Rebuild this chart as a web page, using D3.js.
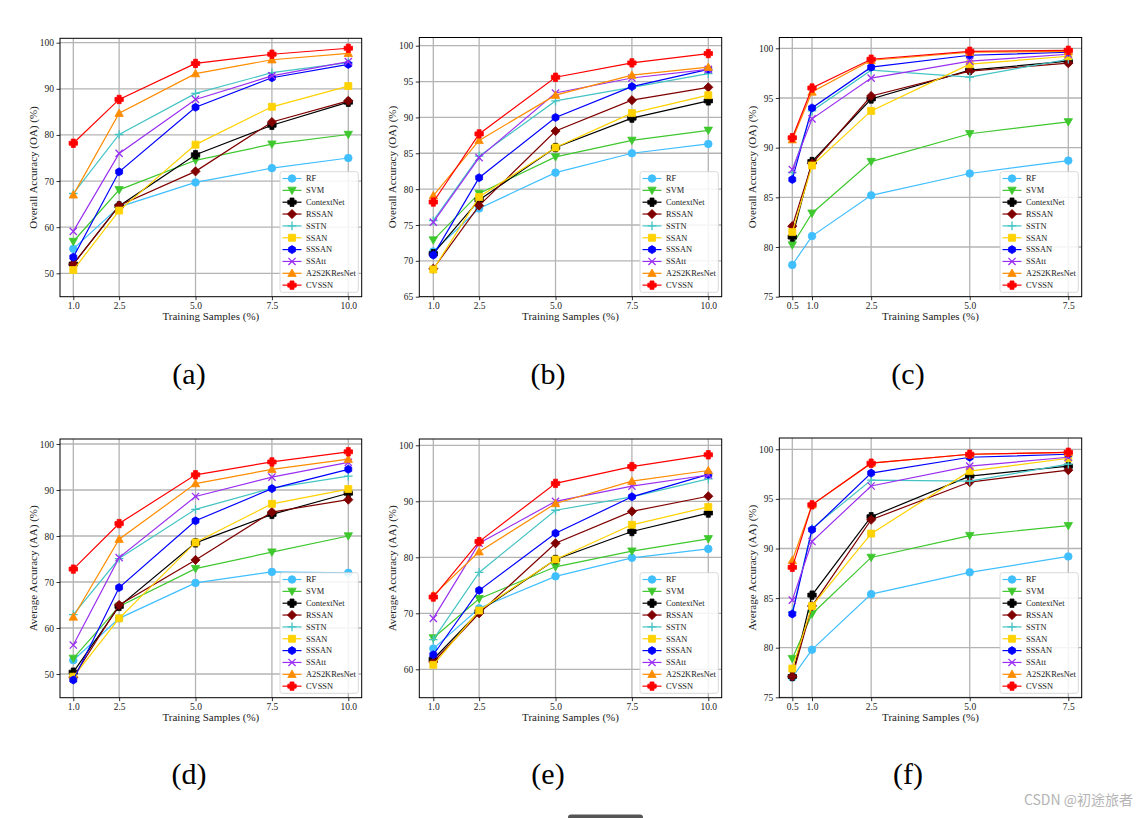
<!DOCTYPE html>
<html>
<head>
<meta charset="utf-8">
<script src="https://cdn.jsdelivr.net/npm/d3@7"></script>
<style>
  html, body { margin: 0; padding: 0; background: #ffffff; }
  svg { display: block; }
</style>
</head>
<body>
<svg id="chart" width="1147" height="818"></svg>
<script>
// ---------------- DATA ----------------
const methods = ["RF", "SVM", "ContextNet", "RSSAN", "SSTN", "SSAN", "SSSAN", "SSAtt", "A2S2KResNet", "CVSSN"];
const samplesAB = [1.0, 2.5, 5.0, 7.5, 10.0];
const samplesC = [0.5, 1.0, 2.5, 5.0, 7.5];
const xTickLabelsAB = ["1.0", "2.5", "5.0", "7.5", "10.0"];
const xTickLabelsC = ["0.5", "1.0", "2.5", "5.0", "7.5"];
const yTicksA = [50, 60, 70, 80, 90, 100];
const yTicksB = [65, 70, 75, 80, 85, 90, 95, 100];
const yTicksC = [75, 80, 85, 90, 95, 100];
const yTicksD = [50, 60, 70, 80, 90, 100];
const yTicksE = [60, 70, 80, 90, 100];
const yTicksF = [75, 80, 85, 90, 95, 100];

// (a) Overall Accuracy, rows follow `methods`
const oaA = [
  [55.3, 64.4, 69.7, 72.8, 75.0],
  [56.9, 68.1, 74.5, 78.0, 80.1],
  [52.0, 64.6, 75.7, 82.1, 87.1],
  [52.0, 64.7, 72.1, 82.8, 87.4],
  [67.3, 80.1, 89.0, 93.5, 95.7],
  [50.7, 63.6, 77.9, 86.1, 90.6],
  [53.5, 72.0, 86.0, 92.4, 95.3],
  [59.1, 76.0, 87.7, 92.8, 95.9],
  [67.0, 84.7, 93.3, 96.3, 97.7],
  [78.2, 87.7, 95.5, 97.5, 98.8]
];
// (b) Overall Accuracy
const oaB = [
  [71.3, 77.3, 82.3, 85.0, 86.3],
  [72.9, 79.4, 84.5, 86.8, 88.2],
  [71.0, 78.5, 85.8, 89.9, 92.3],
  [68.9, 77.7, 88.1, 92.4, 94.2],
  [75.6, 84.6, 92.3, 94.2, 96.1],
  [68.8, 78.9, 85.8, 90.6, 93.1],
  [70.8, 81.6, 90.0, 94.3, 96.7],
  [75.4, 84.4, 93.4, 95.5, 96.7],
  [79.1, 86.8, 93.1, 95.9, 97.0],
  [78.2, 87.7, 95.6, 97.6, 98.9]
];
// (c) Overall Accuracy
const oaC = [
  [78.2, 81.1, 85.2, 87.4, 88.7],
  [80.2, 83.4, 88.6, 91.4, 92.6],
  [81.0, 88.6, 94.9, 97.8, 98.7],
  [82.1, 88.4, 95.2, 97.7, 98.5],
  [87.5, 93.7, 97.8, 97.1, 98.9],
  [81.5, 88.2, 93.7, 98.4, 99.2],
  [86.8, 94.0, 98.1, 99.3, 99.6],
  [87.8, 92.9, 97.0, 98.7, 99.4],
  [90.8, 95.6, 98.8, 99.6, 99.7],
  [91.0, 96.0, 98.9, 99.7, 99.8]
];
// (d) Average Accuracy
const aaD = [
  [53.0, 62.1, 69.8, 72.2, 72.0],
  [53.4, 64.7, 72.9, 76.5, 80.0],
  [50.4, 64.7, 78.5, 84.7, 89.3],
  [49.3, 65.0, 74.8, 85.2, 87.9],
  [62.9, 75.1, 85.8, 90.4, 93.0],
  [49.4, 62.1, 78.6, 87.0, 90.2],
  [48.7, 68.8, 83.3, 90.3, 94.5],
  [56.3, 75.3, 88.6, 92.8, 96.0],
  [62.4, 79.3, 91.4, 94.5, 96.7],
  [72.8, 82.7, 93.3, 96.1, 98.3]
];
// (e) Average Accuracy
const aaE = [
  [63.7, 70.9, 76.6, 79.9, 81.5],
  [65.6, 72.6, 78.3, 81.1, 83.3],
  [61.8, 70.3, 79.6, 84.6, 87.9],
  [61.3, 70.0, 82.5, 88.2, 90.9],
  [65.3, 77.3, 88.4, 90.8, 94.0],
  [60.8, 70.5, 79.6, 85.8, 89.0],
  [62.6, 74.1, 84.3, 90.8, 94.8],
  [69.1, 82.5, 90.0, 92.7, 94.7],
  [73.2, 81.0, 89.6, 93.6, 95.5],
  [72.9, 82.8, 93.2, 96.2, 98.3]
];
// (f) Average Accuracy
const aaF = [
  [77.0, 79.8, 85.4, 87.6, 89.2],
  [78.9, 83.4, 89.1, 91.3, 92.3],
  [77.1, 85.3, 93.2, 97.3, 98.3],
  [77.1, 84.2, 92.9, 96.7, 97.9],
  [83.6, 92.0, 96.9, 96.8, 98.5],
  [77.9, 84.2, 91.5, 97.8, 99.1],
  [83.4, 91.9, 97.6, 99.2, 99.5],
  [84.8, 90.7, 96.3, 98.3, 99.2],
  [88.8, 94.4, 98.6, 99.5, 99.7],
  [88.1, 94.4, 98.6, 99.5, 99.7]
];

// ---------------- STYLE ----------------
const colors = ["#40bfff", "#3ec82e", "#000000", "#800000", "#45c4c4", "#ffd200", "#0000ff", "#9a30f0", "#ff8c00", "#ff0000"];
const markers = ["circle", "tridown", "plusfill", "diamond", "plus", "square", "hexagon", "cross", "triup", "plusfill"];
const FONT = "'Liberation Serif', 'Times New Roman', serif";

function markerPath(type) {
  switch (type) {
    case "circle": { const r = 3.8; return `M${-r},0A${r},${r} 0 1,0 ${r},0A${r},${r} 0 1,0 ${-r},0Z`; }
    case "tridown": return "M-4.2,-3.2L4.2,-3.2L0,4.2Z";
    case "triup": return "M0,-4.2L4.2,3.2L-4.2,3.2Z";
    case "square": return "M-3.5,-3.5L3.5,-3.5L3.5,3.5L-3.5,3.5Z";
    case "diamond": return "M0,-4.6L4.6,0L0,4.6L-4.6,0Z";
    case "hexagon": {
      const r = 4.0; const p = d3.range(6).map(k => { const a = -Math.PI / 2 + k * Math.PI / 3; return [r * Math.cos(a), r * Math.sin(a)]; });
      return "M" + p.map(q => q.join(",")).join("L") + "Z";
    }
    case "plusfill": {
      const s = 4.2, t = 2.0;
      return `M${-t},${-s}L${t},${-s}L${t},${-t}L${s},${-t}L${s},${t}L${t},${t}L${t},${s}L${-t},${s}L${-t},${t}L${-s},${t}L${-s},${-t}L${-t},${-t}Z`;
    }
    case "plus": return "M-4.3,0L4.3,0M0,-4.3L0,4.3";
    case "cross": return "M-3.6,-3.6L3.6,3.6M-3.6,3.6L3.6,-3.6";
  }
}
const strokeOnly = t => t === "plus" || t === "cross";

function drawMarker(g, type, color, x, y) {
  const p = g.append("path")
    .attr("d", markerPath(type))
    .attr("transform", `translate(${x},${y})`);
  if (strokeOnly(type)) {
    p.attr("fill", "none").attr("stroke", color).attr("stroke-width", 1.3);
  } else {
    p.attr("fill", color).attr("stroke", color).attr("stroke-width", 0.8).attr("stroke-linejoin", "round");
  }
}

// ---------------- PANELS (layout) ----------------
const panels = [
  { id: "(a)", data: oaA, xs: samplesAB, xl: xTickLabelsAB, yt: yTicksA, ylab: "Overall Accuracy (OA) (%)",
    L: 60, R: 361.7, T: 38.3, B: 296.7, yr: [[50, 273.3], [100, 42.7]], xr: [[1, 73.3], [10, 348.3]], lx: 189, ly: 384 },
  { id: "(b)", data: oaB, xs: samplesAB, xl: xTickLabelsAB, yt: yTicksB, ylab: "Overall Accuracy (OA) (%)",
    L: 419.3, R: 721.7, T: 37.5, B: 296.7, yr: [[65, 296.7], [100, 45.7]], xr: [[1, 433.3], [10, 708.3]], lx: 548, ly: 384 },
  { id: "(c)", data: oaC, xs: samplesC, xl: xTickLabelsC, yt: yTicksC, ylab: "Overall Accuracy (OA) (%)",
    L: 779.3, R: 1081.7, T: 37.5, B: 296.7, yr: [[75, 296.7], [100, 48.3]], xr: [[0.5, 792.3], [7.5, 1068.3]], lx: 908, ly: 384 },
  { id: "(d)", data: aaD, xs: samplesAB, xl: xTickLabelsAB, yt: yTicksD, ylab: "Average Accuracy (AA) (%)",
    L: 60, R: 361.7, T: 439.0, B: 697.7, yr: [[50, 674], [100, 444]], xr: [[1, 73.3], [10, 348.3]], lx: 189, ly: 784 },
  { id: "(e)", data: aaE, xs: samplesAB, xl: xTickLabelsAB, yt: yTicksE, ylab: "Average Accuracy (AA) (%)",
    L: 419.3, R: 721.7, T: 439.0, B: 697.7, yr: [[60, 669.3], [100, 445.3]], xr: [[1, 433.3], [10, 708.3]], lx: 548, ly: 784 },
  { id: "(f)", data: aaF, xs: samplesC, xl: xTickLabelsC, yt: yTicksF, ylab: "Average Accuracy (AA) (%)",
    L: 779.3, R: 1081.7, T: 438.0, B: 697.7, yr: [[75, 697.3], [100, 449.3]], xr: [[0.5, 792.3], [7.5, 1068.3]], lx: 908, ly: 784 }
];

const svg = d3.select("#chart");
svg.append("rect").attr("width", 1147).attr("height", 818).attr("fill", "#ffffff");

panels.forEach((P, pi) => {
  const x = d3.scaleLinear().domain([P.xr[0][0], P.xr[1][0]]).range([P.xr[0][1], P.xr[1][1]]);
  const y = d3.scaleLinear().domain([P.yr[0][0], P.yr[1][0]]).range([P.yr[0][1], P.yr[1][1]]);
  const g = svg.append("g");
  const clipId = "clip" + pi;
  svg.append("clipPath").attr("id", clipId).append("rect")
    .attr("x", P.L).attr("y", P.T).attr("width", P.R - P.L).attr("height", P.B - P.T);

  // grid
  const grid = g.append("g").attr("clip-path", `url(#${clipId})`);
  P.xs.forEach(v => grid.append("line").attr("x1", x(v)).attr("x2", x(v)).attr("y1", P.T).attr("y2", P.B)
    .attr("stroke", "#b4b4b4").attr("stroke-width", 1.3));
  P.yt.forEach(v => grid.append("line").attr("x1", P.L).attr("x2", P.R).attr("y1", y(v)).attr("y2", y(v))
    .attr("stroke", "#b4b4b4").attr("stroke-width", 1.3));

  // axes via d3
  const xAxis = d3.axisBottom(x).tickValues(P.xs).tickFormat((d, i) => P.xl[i]).tickSizeOuter(0).tickSize(3.5).tickPadding(2.5);
  const yAxis = d3.axisLeft(y).tickValues(P.yt).tickFormat(d3.format("d")).tickSizeOuter(0).tickSize(3.5).tickPadding(2.5);
  const gx = g.append("g").attr("transform", `translate(0,${P.B})`).call(xAxis);
  const gy = g.append("g").attr("transform", `translate(${P.L},0)`).call(yAxis);
  [gx, gy].forEach(a => {
    a.select(".domain").remove();
    a.selectAll(".tick line").attr("stroke", "#000").attr("stroke-width", 0.8);
    a.selectAll(".tick text").attr("font-family", FONT).attr("font-size", 9.5).attr("fill", "#222");
  });

  // series
  const lines = g.append("g").attr("clip-path", `url(#${clipId})`);
  const lineGen = d3.line().x(d => x(d[0])).y(d => y(d[1]));
  P.data.forEach((vals, si) => {
    const pts = P.xs.map((xv, k) => [xv, vals[k]]);
    lines.append("path").attr("d", lineGen(pts)).attr("fill", "none")
      .attr("stroke", colors[si]).attr("stroke-width", 1.2);
    pts.forEach(p => drawMarker(lines, markers[si], colors[si], x(p[0]), y(p[1])));
  });

  // frame
  g.append("rect").attr("x", P.L).attr("y", P.T).attr("width", P.R - P.L).attr("height", P.B - P.T)
    .attr("fill", "none").attr("stroke", "#000").attr("stroke-width", 1);

  // axis titles
  g.append("text").attr("x", (P.L + P.R) / 2).attr("y", P.B + 23.5).attr("text-anchor", "middle")
    .attr("font-family", FONT).attr("font-size", 11).attr("fill", "#222").text("Training Samples (%)");
  g.append("text").attr("transform", `translate(${P.L - 23.5},${(P.T + P.B) / 2}) rotate(-90)`)
    .attr("text-anchor", "middle").attr("font-family", FONT).attr("font-size", 11).attr("fill", "#222").text(P.ylab);

  // legend
  const bw = 78.3, bh = 120.6;
  const bx = P.R - 3.4 - bw, by = P.B - 4.4 - bh;
  const lg = g.append("g");
  lg.append("rect").attr("x", bx).attr("y", by).attr("width", bw).attr("height", bh).attr("rx", 2.5)
    .attr("fill", "#ffffff").attr("fill-opacity", 0.85).attr("stroke", "#d0d0d0").attr("stroke-width", 0.8);
  methods.forEach((m, si) => {
    const cy = by + 6.8 + si * 11.85;
    lg.append("line").attr("x1", bx + 2.5).attr("x2", bx + 21.5).attr("y1", cy).attr("y2", cy)
      .attr("stroke", colors[si]).attr("stroke-width", 1.2);
    drawMarker(lg, markers[si], colors[si], bx + 12, cy);
    lg.append("text").attr("x", bx + 26).attr("y", cy).attr("dy", "0.34em")
      .attr("font-family", FONT).attr("font-size", 8.4).attr("fill", "#222").text(m);
  });

  // panel label
  svg.append("text").attr("x", P.lx).attr("y", P.ly).attr("text-anchor", "middle")
    .attr("font-family", FONT).attr("font-size", 30).attr("fill", "#000").text(P.id);
});

// watermark & bottom bar
svg.append("text").attr("x", 1133).attr("y", 805).attr("text-anchor", "end")
  .attr("font-family", "'Noto Sans CJK SC', 'Noto Sans', sans-serif").attr("font-size", 14)
  .attr("fill", "#b4b4b4").text("CSDN @初途旅者");
svg.append("rect").attr("x", 568).attr("y", 814.5).attr("width", 75).attr("height", 6).attr("rx", 3)
  .attr("fill", "#555555");
</script>
</body>
</html>
